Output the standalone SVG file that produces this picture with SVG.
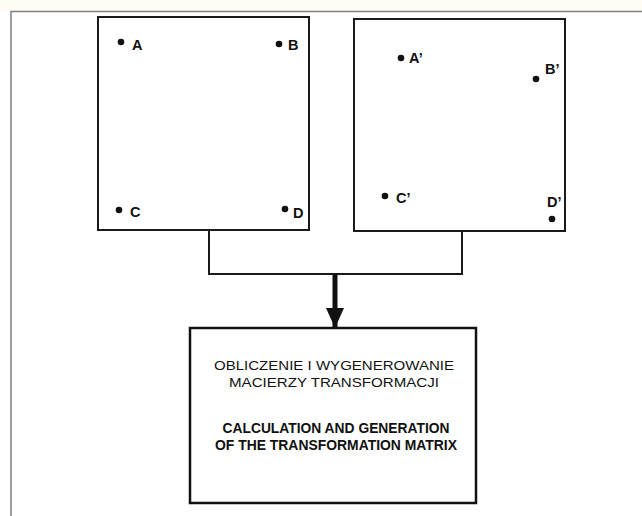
<svg xmlns="http://www.w3.org/2000/svg" width="642" height="516" viewBox="0 0 642 516">
<style>
.box{fill:#fff;stroke:#1a1a1a;stroke-width:2}
.lbl{font-family:"Liberation Sans",Arial,sans-serif;font-weight:bold;font-size:14.5px;fill:#111}
.dot{fill:#111}
.conn{fill:none;stroke:#1a1a1a;stroke-width:2}
.t{font-family:"Liberation Sans",Arial,sans-serif;font-size:13.5px;fill:#111;text-anchor:middle}
.tb{font-family:"Liberation Sans",Arial,sans-serif;font-size:15px;font-weight:bold;fill:#111;text-anchor:middle}
</style>
<defs>
<marker id="ah" markerWidth="20" markerHeight="18" refX="19" refY="9" orient="auto" markerUnits="userSpaceOnUse" viewBox="0 0 20 18">
<path d="M0,0 L20,9 L0,18 Z" fill="#111"/>
</marker>
</defs>
<rect x="0" y="0" width="642" height="516" fill="#fff"/>
<rect x="0" y="0" width="642" height="11" fill="#fffdf3"/>
<path d="M11,516 V11.5 H642" fill="none" stroke="#808080" stroke-width="1.5"/>
<g id="source">
<rect class="box" x="98" y="17" width="211" height="213"/>
<circle class="dot" cx="121" cy="42" r="3.3"/><text class="lbl" x="132" y="50">A</text>
<circle class="dot" cx="279" cy="44" r="3.3"/><text class="lbl" x="288" y="50">B</text>
<circle class="dot" cx="119" cy="210" r="3.3"/><text class="lbl" x="130" y="217">C</text>
<circle class="dot" cx="285" cy="209" r="3.3"/><text class="lbl" x="293" y="218">D</text>
</g>
<g id="target">
<rect class="box" x="354" y="19" width="211" height="212"/>
<circle class="dot" cx="401" cy="58" r="3.3"/><text class="lbl" x="409" y="63">A’</text>
<circle class="dot" cx="536" cy="79" r="3.3"/><text class="lbl" x="545" y="74">B’</text>
<circle class="dot" cx="385" cy="196" r="3.3"/><text class="lbl" x="396" y="203">C’</text>
<circle class="dot" cx="552" cy="219" r="3.3"/><text class="lbl" x="547" y="207">D’</text>
</g>
<g id="connectors">
<path class="conn" d="M209,230 V274 H462 V231"/>
<path d="M335,274 V327" stroke="#111" stroke-width="5" fill="none" marker-end="url(#ah)"/>
</g>
<g id="matrix">
<rect x="190" y="328" width="286" height="175" fill="#fff" stroke="#111" stroke-width="2.5"/>
<text class="t" x="334" y="370" textLength="240" lengthAdjust="spacingAndGlyphs">OBLICZENIE I WYGENEROWANIE</text>
<text class="t" x="334" y="387" textLength="210" lengthAdjust="spacingAndGlyphs">MACIERZY TRANSFORMACJI</text>
<text class="tb" x="336" y="433" textLength="227" lengthAdjust="spacingAndGlyphs">CALCULATION AND GENERATION</text>
<text class="tb" x="336" y="450" textLength="242" lengthAdjust="spacingAndGlyphs">OF THE TRANSFORMATION MATRIX</text>
</g>
</svg>
